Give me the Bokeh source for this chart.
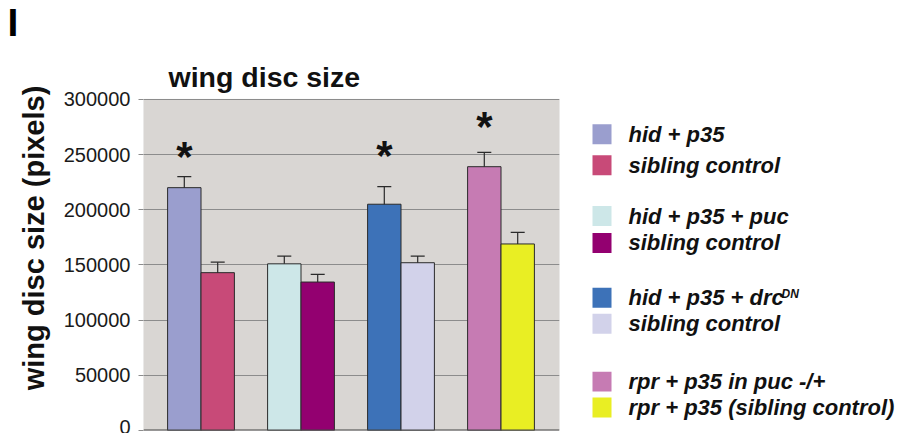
from bokeh.plotting import figure
from bokeh.models import (ColumnDataSource, Range1d, FixedTicker, PrintfTickFormatter,
                          Whisker, TeeHead, Span, Title, BoxAnnotation)
from bokeh.layouts import row
from bokeh.core.properties import value
from bokeh.embed import file_html
from bokeh.resources import INLINE

# ---------------- data ----------------
categories = ["hid + p35", "sibling control",
              "hid + p35 + puc", "sibling control",
              "hid + p35 + drc", "sibling control",
              "rpr + p35 in puc -/+", "rpr + p35 (sibling control)"]
groups = [1, 1, 2, 2, 3, 3, 4, 4]
sides = [-1, 1, -1, 1, -1, 1, -1, 1]
means = [220000, 143000, 151000, 134500, 205000, 152000, 239000, 169000]
errors = [10000, 9500, 7000, 7000, 16000, 6000, 13000, 10500]
colors = ["#9a9ece", "#c84a78", "#cde7e8", "#930070",
          "#3d72b8", "#d2d2ea", "#c67bb3", "#e9ee23"]
star_bars = [0, 4, 6]
star_values = [251000, 252000, 278000]
y_ticks = [0, 50000, 100000, 150000, 200000, 250000, 300000]
y_max = 300000
chart_title = "wing disc size"

FONT = value("Liberation Sans")
BAR_W = 0.334
H = 433
FRAME_TOP = 44        # px from canvas top to frame top
AXIS_TOP = 98         # px where y_max sits
AXIS_BOTTOM = 430     # px where 0 sits
BOTTOM = H - AXIS_BOTTOM
LEFT_W = 568
X_LO, X_HI = 0.425, 4.585

px_per_unit = (AXIS_BOTTOM - AXIS_TOP) / y_max
y_end = (AXIS_BOTTOM - FRAME_TOP) / px_per_unit

xs = [g + s * BAR_W / 2 for g, s in zip(groups, sides)]
src = ColumnDataSource(dict(
    x=xs, top=means, color=colors,
    upper=[m + e for m, e in zip(means, errors)],
    lower=[m - e for m, e in zip(means, errors)],
))

p = figure(width=LEFT_W, height=H, x_range=Range1d(X_LO, X_HI), y_range=Range1d(0, y_end),
           toolbar_location=None, output_backend="svg",
           x_axis_location=None, min_border_left=143, min_border_right=9,
           min_border_top=FRAME_TOP, min_border_bottom=BOTTOM)
p.title = Title(text="I", align="left", offset=-136, standoff=0, vertical_align="top",
                text_font="Liberation Sans", text_font_size="39px",
                text_font_style="bold", text_color="#000000")
p.background_fill_color = "white"
p.border_fill_color = "white"
p.outline_line_color = None

# grey plot area, 0 .. y_max
p.add_layout(BoxAnnotation(bottom=0, top=y_max, fill_color="#d9d6d3", fill_alpha=1,
                           line_color="#a8a8a8", line_width=1, level="image"))

p.xgrid.visible = False
p.ygrid.grid_line_color = "#8c8c8c"
p.ygrid.grid_line_width = 1
p.ygrid.ticker = FixedTicker(ticks=y_ticks)

ax = p.yaxis[0]
ax.ticker = FixedTicker(ticks=y_ticks)
ax.formatter = PrintfTickFormatter(format="%d")
ax.axis_line_color = None
ax.major_tick_line_color = "#8c8c8c"
ax.major_tick_out = 5
ax.major_tick_in = 0
ax.minor_tick_line_color = None
ax.major_label_standoff = 8
ax.major_label_text_font = "Liberation Sans"
ax.major_label_text_font_size = "20px"
ax.major_label_text_color = "#1a1a1a"
ax.axis_label = "wing disc size (pixels)"
ax.axis_label_text_font = "Liberation Sans"
ax.axis_label_text_font_size = "29px"
ax.axis_label_text_font_style = "bold"
ax.axis_label_text_color = "#111111"
ax.axis_label_standoff = 11

p.vbar(x="x", top="top", width=BAR_W, bottom=0, source=src,
       fill_color="color", line_color="#2a2a2a", line_width=1)

wh = Whisker(base="x", upper="upper", lower="lower", source=src,
             line_color="#2a2a2a", line_width=1.2,
             upper_head=TeeHead(size=14, line_color="#2a2a2a", line_width=1.2),
             lower_head=TeeHead(size=14, line_color="#2a2a2a", line_width=1.2))
p.add_layout(wh)

p.add_layout(Span(location=0, dimension="width", line_color="#444444", line_width=2))

p.text(x=[xs[i] for i in star_bars], y=star_values, text=["*"] * len(star_bars),
       text_font=FONT, text_font_size="42px", text_font_style="bold",
       text_align="center", text_baseline="middle", text_color="#111111",
       y_offset=3)

# chart title, placed above the grey area, starting 25 px right of it
p.text(x=[X_LO], y=[y_max], text=[chart_title], x_offset=25, y_offset=-22,
       text_font=FONT, text_font_size="28.5px", text_font_style="bold",
       text_align="left", text_baseline="alphabetic", text_color="#111111")

# ---------------- legend panel ----------------
RIGHT_W = 327
leg = figure(width=RIGHT_W, height=H, x_range=Range1d(LEFT_W, LEFT_W + RIGHT_W),
             y_range=Range1d(AXIS_BOTTOM, FRAME_TOP),
             toolbar_location=None, output_backend="svg",
             x_axis_location=None, y_axis_location=None,
             min_border_left=0, min_border_right=0,
             min_border_top=FRAME_TOP, min_border_bottom=BOTTOM)
leg.grid.visible = False
leg.outline_line_color = None
leg.background_fill_color = "white"
leg.border_fill_color = "white"

row_y = [133, 164, 215, 242, 297, 323, 381, 407]
leg.rect(x=[601.5] * len(row_y), y=row_y, width=19, height=20,
         fill_color=colors, line_color=None)
leg.text(x=[628] * len(row_y), y=row_y, text=categories, text_font=FONT,
         text_font_size="22px", text_font_style="bold italic",
         text_baseline="middle", text_color="#111111")
leg.text(x=[781], y=[293.5], text=["DN"], text_font=FONT, text_font_size="12px",
         text_font_style="bold italic", text_baseline="middle", text_color="#111111")

layout = row(p, leg)
open("out.html", "w").write(file_html(layout, INLINE))
